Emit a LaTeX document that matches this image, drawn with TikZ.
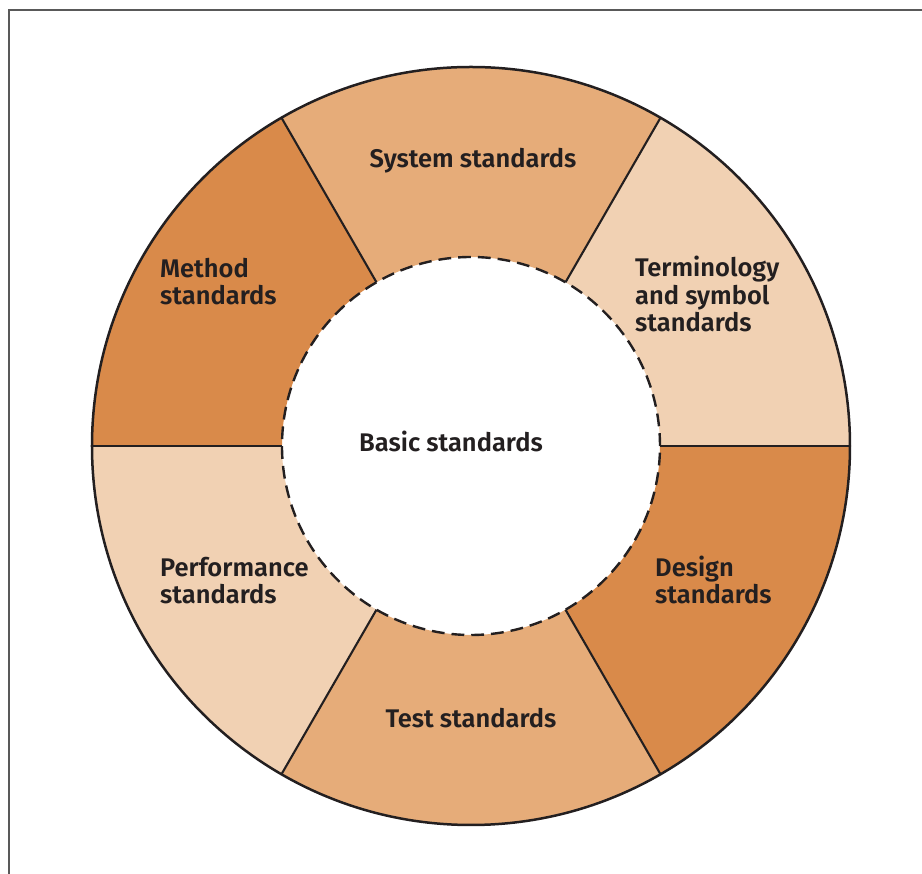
\documentclass[tikz,border=0pt]{standalone}
\usepackage{fontspec}
\setmainfont{Fira Sans SemiBold}
\definecolor{dunkel}{HTML}{D98A4A}
\definecolor{mittel}{HTML}{E6AC79}
\definecolor{hell}{HTML}{F1D1B3}
\definecolor{schwarz}{HTML}{231F20}
\tikzset{
    schrift/.style={inner sep=0pt, text=schwarz, font=\fontsize{25.5}{27.7}\selectfont, align=left},
    rand/.style={draw=schwarz, line width=2.5pt},
    trenn/.style={draw=schwarz, line width=2.1pt},
    gestrichelt/.style={draw=schwarz, line width=2.4pt, dash pattern=on 12.8pt off 7pt},
    rahmen/.style={draw=black!65, line width=2pt}
}
\begin{document}
\begin{tikzpicture}[x=1pt, y=1pt]
    \useasboundingbox (-471,-428) rectangle (451,446);
    \draw[rahmen] (451,436) -| (-462,-428);
    % sectors of the ring
    \foreach \w/\farbe in {0/hell, 60/mittel, 120/dunkel, 180/hell, 240/mittel, 300/dunkel}
        \fill[\farbe] (\w:189) arc[start angle=\w, end angle=\w+60, radius=189]
            -- (\w+60:379) arc[start angle=\w+60, end angle=\w, radius=379] -- cycle;
    \foreach \w in {0, 60, ..., 300}
        \draw[trenn] (\w:189) -- (\w:379);
    \draw[rand] (0,0) circle[radius=379];
    \draw[gestrichelt] (0,0) circle[radius=189];
    % labels, base = baseline of the last line
    \path node[schrift, anchor=base] (sys) at (2,278) {System standards}
        node[schrift, anchor=base west] (method) at (-311,141) {Method\\standards}
        node[schrift, anchor=base west] (term) at (164,114) {Terminology\\and symbol\\standards}
        node[schrift, anchor=base] (basic) at (-20,-6) {Basic standards}
        node[schrift, anchor=base west] (perf) at (-311,-158) {Performance\\standards}
        node[schrift, anchor=base west] (design) at (184,-158) {Design\\standards}
        node[schrift, anchor=base] (test) at (0,-282) {Test standards};
\end{tikzpicture}
\end{document}
